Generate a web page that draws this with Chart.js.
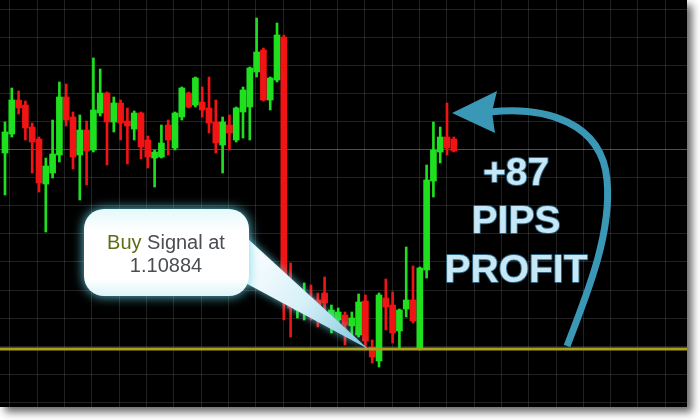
<!DOCTYPE html>
<html>
<head>
<meta charset="utf-8">
<title>Buy Signal +87 pips</title>
<script src="https://cdn.jsdelivr.net/npm/chart.js@4.4.1/dist/chart.umd.min.js"></script>
<style>
  html, body { margin: 0; padding: 0; background: #fff; }
  #wrap { width: 700px; height: 420px; }
</style>
</head>
<body>
<div id="wrap"><canvas id="chart" width="700" height="420"></canvas></div>
<script>
// candles, oldest first
const opens = [
  1.11668, 1.11744, 1.11880, 1.11860, 1.11772, 1.11724, 1.11544, 1.11588, 1.11660, 1.11892,
  1.11812, 1.11660, 1.11760, 1.11680, 1.11828, 1.11908, 1.11792, 1.11868, 1.11796, 1.11764,
  1.11828, 1.11720, 1.11648, 1.11652, 1.11780, 1.11688, 1.11812, 1.11908, 1.11860, 1.11872,
  1.11848, 1.11792, 1.11700, 1.11780, 1.11720, 1.11832, 1.11852, 1.11992, 1.12080, 1.11880,
  1.11960, 1.12132, 1.11072, 1.11040, 1.11040, 1.11088, 1.11080, 1.11108, 1.11000, 1.11000,
  1.11020, 1.10976, 1.10940, 1.11076, 1.10892, 1.10836, 1.11088, 1.11060, 1.10956, 1.11044,
  1.11080, 1.10884, 1.11200, 1.11556, 1.11672, 1.11732, 1.11724
];
const highs = [
  1.11792, 1.11928, 1.11916, 1.11876, 1.11788, 1.11732, 1.11648, 1.11800, 1.11952, 1.11944,
  1.11832, 1.11820, 1.11796, 1.12048, 1.12004, 1.11912, 1.11892, 1.11880, 1.11848, 1.11836,
  1.11832, 1.11736, 1.11680, 1.11780, 1.11800, 1.11832, 1.11932, 1.11912, 1.11972, 1.11932,
  1.11972, 1.11880, 1.11812, 1.11820, 1.11852, 1.11932, 1.12012, 1.12208, 1.12088, 1.11972,
  1.12188, 1.12140, 1.11228, 1.11120, 1.11148, 1.11140, 1.11108, 1.11172, 1.11060, 1.11048,
  1.11032, 1.11032, 1.11104, 1.11100, 1.10920, 1.11108, 1.11164, 1.11112, 1.11044, 1.11292,
  1.11216, 1.11212, 1.11620, 1.11792, 1.11772, 1.11868, 1.11732
];
const lows = [
  1.11500, 1.11732, 1.11824, 1.11720, 1.11588, 1.11512, 1.11352, 1.11568, 1.11632, 1.11776,
  1.11604, 1.11480, 1.11540, 1.11672, 1.11816, 1.11620, 1.11752, 1.11720, 1.11624, 1.11720,
  1.11644, 1.11608, 1.11532, 1.11648, 1.11660, 1.11680, 1.11800, 1.11848, 1.11852, 1.11812,
  1.11748, 1.11668, 1.11588, 1.11680, 1.11712, 1.11728, 1.11720, 1.11972, 1.11876, 1.11840,
  1.11952, 1.11000, 1.10932, 1.11008, 1.11000, 1.11000, 1.10972, 1.11012, 1.10948, 1.10972,
  1.10900, 1.10940, 1.10932, 1.10880, 1.10828, 1.10812, 1.10960, 1.10908, 1.10888, 1.11012,
  1.10988, 1.10880, 1.11168, 1.11492, 1.11628, 1.11660, 1.11672
];
const closes = [
  1.11752, 1.11880, 1.11848, 1.11768, 1.11712, 1.11548, 1.11616, 1.11664, 1.11892, 1.11800,
  1.11652, 1.11760, 1.11676, 1.11840, 1.11908, 1.11792, 1.11868, 1.11788, 1.11776, 1.11828,
  1.11692, 1.11652, 1.11672, 1.11708, 1.11720, 1.11828, 1.11928, 1.11852, 1.11968, 1.11840,
  1.11788, 1.11708, 1.11792, 1.11748, 1.11848, 1.11920, 1.12008, 1.12072, 1.11880, 1.11968,
  1.12140, 1.11072, 1.11048, 1.11080, 1.11068, 1.11032, 1.11020, 1.11068, 1.11040, 1.11032,
  1.10980, 1.11008, 1.11072, 1.10916, 1.10852, 1.11100, 1.11052, 1.10948, 1.11040, 1.11080,
  1.10996, 1.11208, 1.11560, 1.11680, 1.11732, 1.11688, 1.11676
];
const signalPrice = 1.10884;
const signalLabel = ["Buy Signal at", "1.10884"];
const profitLabel = ["+87", "PIPS", "PROFIT"];

(function drawChart() {
  "use strict";

  const UP = "#1fe01f";
  const DOWN = "#f01414";
  const candleColors = opens.map((o, i) => (closes[i] >= o ? UP : DOWN));

  // grid every 4 bars / every 28 points, as on the terminal
  const xGrid = [];
  for (let v = 0.735; v < 100.3; v += 4.015) xGrid.push(v);
  const yGrid = [];
  for (let v = 1.1224; v > 1.1065; v -= 0.00112) yGrid.push(v);

  function roundRect(ctx, x, y, w, h, r) {
    ctx.beginPath();
    ctx.moveTo(x + r, y);
    ctx.arcTo(x + w, y, x + w, y + h, r);
    ctx.arcTo(x + w, y + h, x, y + h, r);
    ctx.arcTo(x, y + h, x, y, r);
    ctx.arcTo(x, y, x + w, y, r);
    ctx.closePath();
  }

  const backdrop = {
    id: "backdrop",
    beforeDraw(chart) {
      const { ctx, chartArea: a } = chart;
      ctx.save();
      ctx.fillStyle = "#fff";
      ctx.fillRect(0, 0, chart.width, chart.height);
      ctx.shadowColor = "rgba(0,0,0,0.6)";
      ctx.shadowBlur = 8;
      ctx.shadowOffsetX = 5;
      ctx.shadowOffsetY = 5;
      ctx.fillStyle = "#000";
      ctx.fillRect(a.left, a.top, a.width, a.height);
      ctx.restore();
    },
  };

  const overlay = {
    id: "overlay",
    afterDatasetsDraw(chart) {
      const { ctx, chartArea: a, scales } = chart;
      const ySig = scales.y.getPixelForValue(signalPrice);

      // signal level
      ctx.save();
      ctx.strokeStyle = "#a99f1c";
      ctx.lineWidth = 3;
      ctx.beginPath();
      ctx.moveTo(a.left, ySig);
      ctx.lineTo(a.right, ySig);
      ctx.stroke();

      // callout tail
      const tipX = scales.x.getPixelForValue(53.4);
      const tail = ctx.createLinearGradient(245, 250, tipX, ySig);
      tail.addColorStop(0, "#ffffff");
      tail.addColorStop(0.5, "#d6f0f8");
      tail.addColorStop(1, "#7cc4de");
      ctx.shadowColor = "rgba(110,215,235,0.8)";
      ctx.shadowBlur = 8;
      ctx.fillStyle = tail;
      ctx.beginPath();
      ctx.moveTo(236, 228);
      ctx.lineTo(tipX, ySig);
      ctx.lineTo(240, 280);
      ctx.closePath();
      ctx.fill();

      // callout box
      ctx.shadowColor = "rgba(100,215,235,0.95)";
      ctx.shadowBlur = 12;
      const box = ctx.createLinearGradient(0, 209, 0, 296);
      box.addColorStop(0, "#e4f8fb");
      box.addColorStop(0.25, "#ffffff");
      box.addColorStop(0.8, "#ffffff");
      box.addColorStop(1, "#dcf4f8");
      ctx.fillStyle = box;
      roundRect(ctx, 84, 209, 165, 87, 20);
      ctx.fill();
      ctx.shadowBlur = 0;

      ctx.font = "20px 'Liberation Sans', Arial, sans-serif";
      ctx.textBaseline = "alphabetic";
      const first = signalLabel[0].split(" ");
      const buy = first[0] + " ";
      const rest = first.slice(1).join(" ");
      const w1 = ctx.measureText(buy).width;
      const w2 = ctx.measureText(rest).width;
      const startX = 166 - (w1 + w2) / 2;
      ctx.textAlign = "left";
      ctx.fillStyle = "#5b6d16";
      ctx.fillText(buy, startX, 249);
      ctx.fillStyle = "#4a4e52";
      ctx.fillText(rest, startX + w1, 249);
      ctx.textAlign = "center";
      ctx.fillText(signalLabel[1], 166, 272);

      // profit arrow
      ctx.strokeStyle = "#3a98b6";
      ctx.fillStyle = "#3a98b6";
      ctx.lineWidth = 7;
      ctx.lineCap = "butt";
      ctx.beginPath();
      ctx.moveTo(567, 346);
      ctx.bezierCurveTo(588, 292, 612, 232, 607, 180);
      ctx.bezierCurveTo(602, 122, 545, 106, 490, 112);
      ctx.stroke();
      ctx.beginPath();
      ctx.moveTo(452, 113);
      ctx.lineTo(497, 91);
      ctx.lineTo(492, 112);
      ctx.lineTo(495, 133);
      ctx.closePath();
      ctx.fill();

      // profit text
      ctx.font = "bold 39px 'Liberation Sans', Arial, sans-serif";
      ctx.textAlign = "center";
      ctx.lineJoin = "round";
      ctx.lineWidth = 2;
      ctx.strokeStyle = "rgba(50,110,140,0.9)";
      ctx.fillStyle = "#c6e8f6";
      const baselines = [185, 233, 282];
      profitLabel.forEach((t, i) => {
        ctx.strokeText(t, 516, baselines[i]);
        ctx.fillText(t, 516, baselines[i]);
      });
      ctx.restore();
    },
  };

  const gridColor = (c) =>
    c.tick && Math.abs(c.tick.value - 1.1168) < 0.00005 ? "rgba(255,255,255,0.3)" : "rgba(255,255,255,0.13)";

  new Chart(document.getElementById("chart"), {
    type: "bar",
    data: {
      datasets: [
        {
          label: "body",
          data: opens.map((o, i) => ({ x: i, y: [o, closes[i]] })),
          backgroundColor: candleColors,
          borderWidth: 0,
          barThickness: 6,
          minBarLength: 2,
          grouped: false,
          order: 0,
        },
        {
          label: "wick",
          data: lows.map((l, i) => ({ x: i, y: [l, highs[i]] })),
          backgroundColor: candleColors,
          borderWidth: 0,
          barThickness: 2,
          grouped: false,
          order: 1,
        },
      ],
    },
    options: {
      responsive: false,
      animation: false,
      devicePixelRatio: 1,
      layout: { padding: { left: 0, top: 0, right: 13, bottom: 13 } },
      plugins: { legend: { display: false }, tooltip: { enabled: false } },
      scales: {
        x: {
          type: "linear",
          offset: false,
          min: -0.735,
          max: 100.29,
          ticks: { display: false },
          border: { display: false },
          grid: { color: "rgba(255,255,255,0.13)", drawTicks: false, offset: false },
          afterBuildTicks(axis) {
            axis.ticks = xGrid.map((v) => ({ value: v }));
          },
        },
        y: {
          min: 1.10652,
          max: 1.1228,
          ticks: { display: false },
          border: { display: false },
          grid: { color: gridColor, drawTicks: false },
          afterBuildTicks(axis) {
            axis.ticks = yGrid.map((v) => ({ value: v }));
          },
        },
      },
    },
    plugins: [backdrop, overlay],
  });
})();
</script>
</body>
</html>
